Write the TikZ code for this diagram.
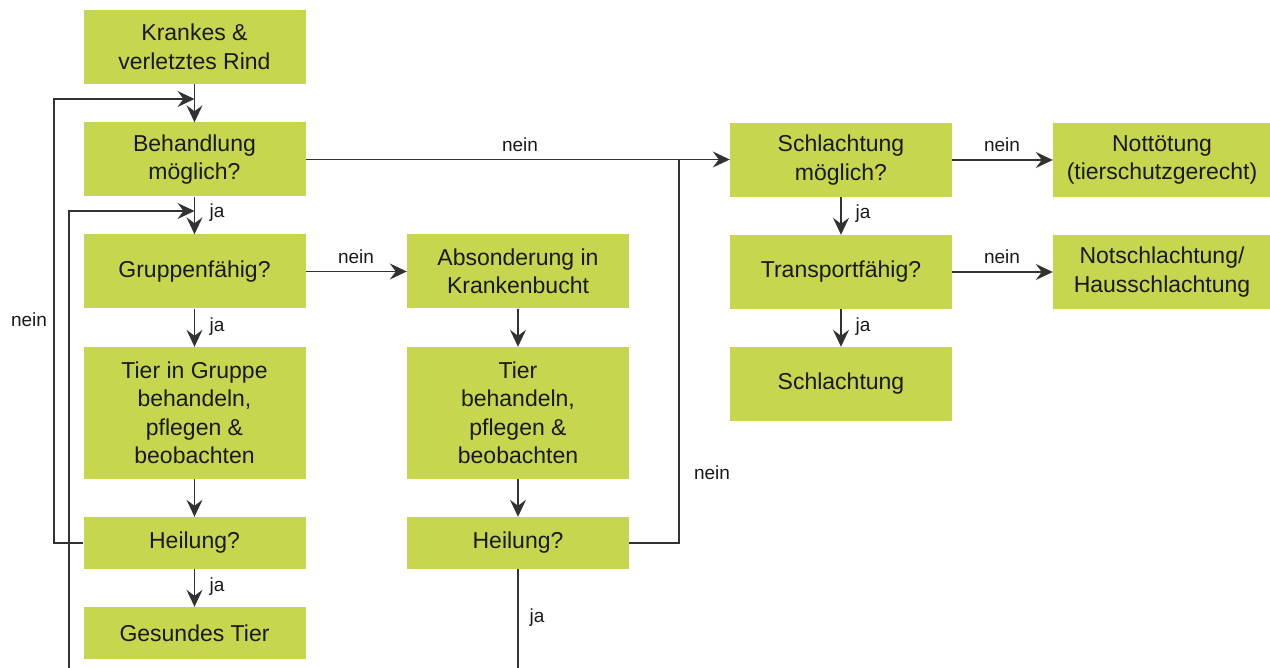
\documentclass[tikz,border=0pt]{standalone}
\usepackage{fontspec}
\setmainfont{Liberation Sans}
\usetikzlibrary{arrows.meta,calc}
\definecolor{boxgreen}{RGB}{198,214,78}
\definecolor{txt}{RGB}{25,25,25}
\definecolor{ln}{RGB}{50,50,50}
\tikzset{
  box/.style={rectangle, fill=boxgreen, draw=none, inner sep=0pt, align=center,
    text=txt, font=\fontsize{23}{28.5}\selectfont, minimum width=222pt},
  h74/.style={minimum height=74pt},
  h52/.style={minimum height=52pt},
  h132/.style={minimum height=132pt},
  conn/.style={draw=ln, line width=1.3pt},
  arr/.style={conn, -{Stealth[length=17pt,width=16pt,inset=6pt]}},
  lbl/.style={text=txt, font=\fontsize{19}{22}\selectfont, inner sep=0pt}
}
\begin{document}
\begin{tikzpicture}[x=1pt,y=-1pt]
\useasboundingbox (0,0) rectangle (1270,668);
% column 1
\node[box,h74] (kr) at (194.5,47) {Krankes \&\\verletztes Rind};
\node[box,h74] (beh) at (194.5,159.5) {Behandlung\\möglich?};
\node[box,h74] (grp) at (194.5,271.5) {Gruppenfähig?};
\node[box,h132] (tig) at (194.5,413) {Tier in Gruppe\\behandeln,\\pflegen \&\\beobachten};
\node[box,h52] (h1) at (194.5,543) {Heilung?};
\node[box,h52] (ges) at (194.5,633) {Gesundes Tier};
% column 2
\node[box,h74] (abs) at (518,271.5) {Absonderung in\\Krankenbucht};
\node[box,h132] (tb) at (518,413) {Tier\\behandeln,\\pflegen \&\\beobachten};
\node[box,h52] (h2) at (518,543) {Heilung?};
% column 3
\node[box,h74] (sm) at (841,160) {Schlachtung\\möglich?};
\node[box,h74] (tf) at (841,272) {Transportfähig?};
\node[box,h74] (sch) at (841,384) {Schlachtung};
% column 4
\node[box,h74,minimum width=218pt] (nt) at (1162,160) {Nottötung\\(tierschutzgerecht)};
\node[box,h74,minimum width=218pt] (ns) at (1162,272) {Notschlachtung/\\Hausschlachtung};

% helper coordinates
\coordinate (j1) at (194.5,99);
\coordinate (j2) at (194.5,211);
\coordinate (c1) at (54,543);
\coordinate (c2) at (54,99);
\coordinate (b1) at (69,668);
\coordinate (b2) at (69,211);
\coordinate (r1) at (679,543);
\coordinate (r2) at (679,159.5);
\coordinate (b3) at (518,668);

% connectors column 1
\draw[arr] (kr.south) -- (beh.north);
\draw[arr] (beh.south) -- (grp.north);
\draw[arr] (grp.south) -- (tig.north);
\draw[arr] (tig.south) -- (h1.north);
\draw[arr] (h1.south) -- (ges.north);
\draw[arr] (h1.west) -- (c1) -- (c2) -- (j1);
\draw[arr] (b1) -- (b2) -- (j2);
% column 2
\draw[arr] (grp.east) -- (abs.west);
\draw[arr] (abs.south) -- (tb.north);
\draw[arr] (tb.south) -- (h2.north);
\draw[conn] (h2.east) -- (r1) -- (r2);
\draw[conn] (h2.south) -- (b3);
% to column 3
\draw[arr] (beh.east) -- (sm.west |- beh.east);
\draw[arr] (sm.south) -- (tf.north);
\draw[arr] (tf.south) -- (sch.north);
\draw[arr] (sm.east) -- (nt.west);
\draw[arr] (tf.east) -- (ns.west);

% labels
\node[lbl] (l1) at (520,145) {nein};
\node[lbl] (l2) at (217,213) {ja};
\node[lbl] (l3) at (217,327) {ja};
\node[lbl] (l4) at (217,587) {ja};
\node[lbl] (l5) at (356,257) {nein};
\node[lbl] (l6) at (29,320) {nein};
\node[lbl] (l7) at (712,473) {nein};
\node[lbl] (l8) at (537,618) {ja};
\node[lbl] (l9) at (863,214) {ja};
\node[lbl] (l10) at (863,327) {ja};
\node[lbl] (l11) at (1002,145) {nein};
\node[lbl] (l12) at (1002,257) {nein};
\end{tikzpicture}
\end{document}
